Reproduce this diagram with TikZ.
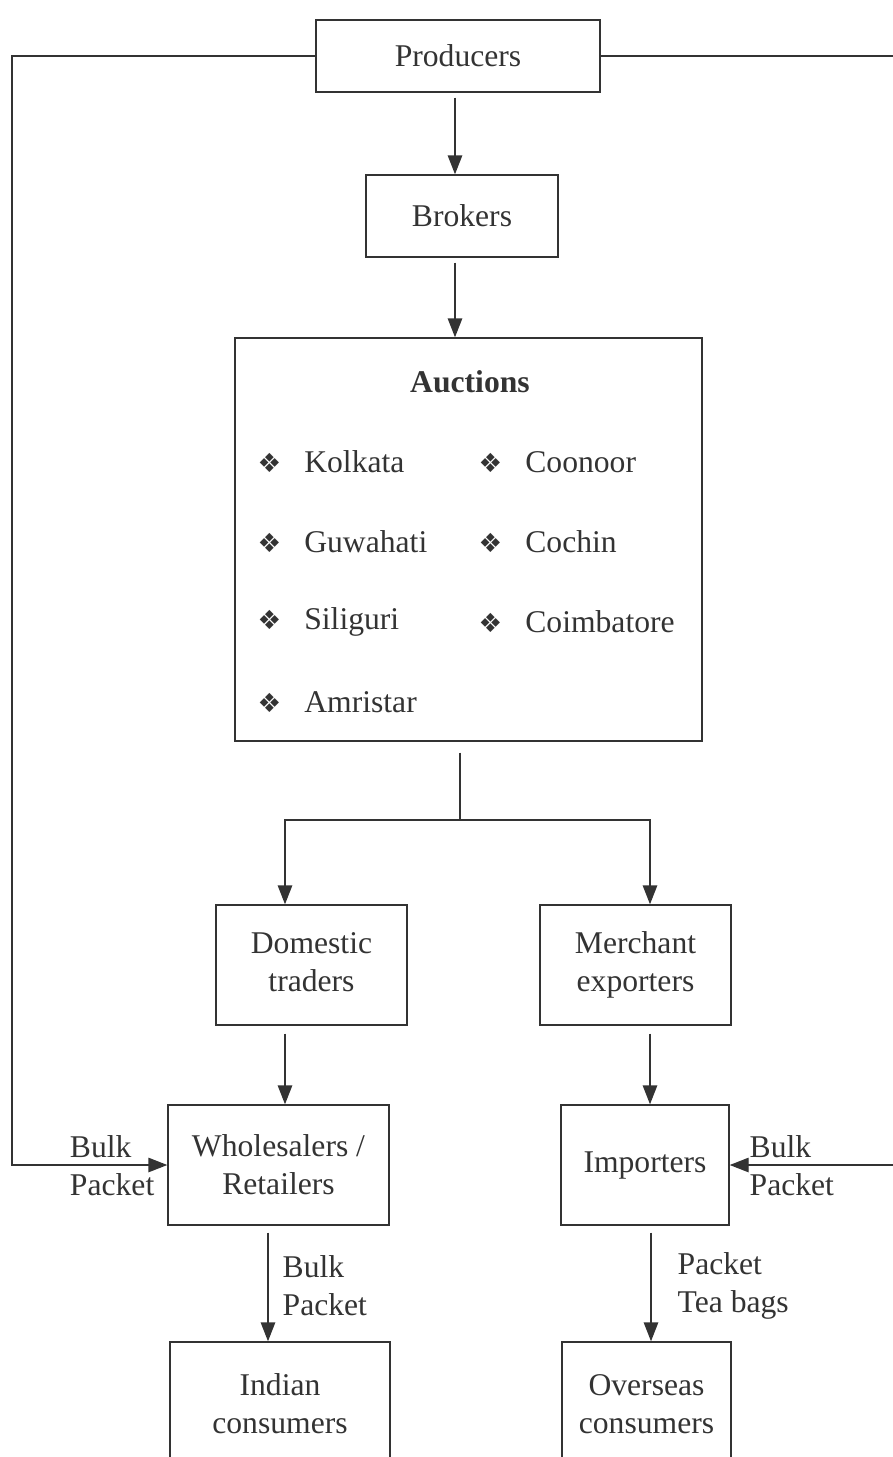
\documentclass[tikz,border=0pt]{standalone}
\usepackage{fontspec}
\setmainfont{Liberation Serif}
\newfontfamily\symfont{DejaVu Sans}
\usetikzlibrary{arrows.meta}
\definecolor{ink}{HTML}{333333}
\newcommand{\itm}[1]{{\symfont\fontsize{7.5pt}{8pt}\selectfont ❖}\hspace{2.3mm}#1}
\begin{document}
\begin{tikzpicture}[
    font=\fontsize{9pt}{10.8pt}\selectfont, text=ink,
    box/.style ={rectangle, draw=ink, line width=0.4pt, align=center, inner sep=0pt},
    arr/.style ={draw=ink, line width=0.4pt, -{Triangle[length=1.9mm,width=1.45mm]}},
    lbl/.style ={align=left, inner sep=0pt}]
   \useasboundingbox (0,0) rectangle (8.93,-14.57);
   \clip (0,0) rectangle (8.93,-14.57);
   \node[box, minimum width=2.84cm, minimum height=0.72cm] (prod) at (4.58,-0.56) {Producers};
   \node[box, minimum width=1.92cm, minimum height=0.82cm] (brok) at (4.62,-2.16) {Brokers};
   \node[box, minimum width=4.67cm, minimum height=4.03cm] (auc)  at (4.685,-5.395) {};
   \node[font=\fontsize{9pt}{10.8pt}\selectfont\bfseries] (auctit) at (4.70,-3.82) {Auctions};
   \node[anchor=west, inner sep=0pt] (kol) at (2.57,-4.62) {\itm{Kolkata}};
   \node[anchor=west, inner sep=0pt] (guw) at (2.57,-5.42) {\itm{Guwahati}};
   \node[anchor=west, inner sep=0pt] (sil) at (2.57,-6.22) {\itm{Siliguri}};
   \node[anchor=west, inner sep=0pt] (amr) at (2.57,-7.02) {\itm{Amristar}};
   \node[anchor=west, inner sep=0pt] (coo) at (4.78,-4.62) {\itm{Coonoor}};
   \node[anchor=west, inner sep=0pt] (coc) at (4.78,-5.42) {\itm{Cochin}};
   \node[anchor=west, inner sep=0pt] (coi) at (4.78,-6.22) {\itm{Coimbatore}};
   \node[box, minimum width=1.91cm, minimum height=1.20cm] (dom)   at (3.115,-9.65) {Domestic\\traders\vphantom{p}};
   \node[box, minimum width=1.91cm, minimum height=1.20cm] (mer)   at (6.355,-9.65) {Merchant\\exporters};
   \node[box, minimum width=2.21cm, minimum height=1.20cm] (whole) at (2.785,-11.65) {Wholesalers /\\Retailers};
   \node[box, minimum width=1.68cm, minimum height=1.20cm] (imp)   at (6.45,-11.65) {Importers};
   \node[box, minimum width=2.20cm, minimum height=1.50cm] (ind)   at (2.80,-14.17) {};
   \node[box, minimum width=1.69cm, minimum height=1.50cm] (ovs)   at (6.465,-14.17) {};
   \node[align=center] (indt) at (2.80,-14.04) {Indian\\consumers};
   \node[align=center] (ovst) at (6.465,-14.04) {Overseas\\consumers};
   \coordinate (lft) at (0.12,-6);
   \coordinate (rgt) at (9.05,-6);
   \coordinate (split) at (4.60,-8.20);
   \draw[arr, shorten <=0.5mm] ([xshift=-0.3mm]prod.south) -- ([xshift=-0.3mm]prod.south |- brok.north);
   \draw[arr, shorten <=0.5mm] ([xshift=-0.7mm]brok.south) -- ([xshift=-0.7mm]brok.south |- auc.north);
   \draw[draw=ink, line width=0.4pt] (auc.south -| split) ++(0,-0.11) -- (split);
   \draw[arr] (split) -| ([xshift=-2.65mm]dom.north);
   \draw[arr] (split) -| ([xshift=1.45mm]mer.north);
   \draw[arr, shorten <=0.8mm] ([xshift=-2.65mm]dom.south) -- ([xshift=-2.65mm]dom.south |- whole.north);
   \draw[arr, shorten <=0.8mm] ([xshift=1.45mm]mer.south) -- ([xshift=1.45mm]mer.south |- imp.north);
   \draw[arr, shorten <=0.7mm] ([xshift=-1.05mm]whole.south) -- ([xshift=-1.05mm]whole.south |- ind.north);
   \draw[arr, shorten <=0.7mm] ([xshift=0.6mm]imp.south) -- ([xshift=0.6mm]imp.south |- ovs.north);
   \draw[arr] (prod.west) -| (lft) |- (whole.west);
   \draw[arr] (prod.east) -| (rgt) |- (imp.east);
   \node[lbl, align=left, anchor=east] (lblL) at (1.55,-11.66) {\hfill Bulk\\Packet};
   \node[lbl, anchor=west] (lblR) at (7.49,-11.66) {Bulk\\Packet};
   \node[lbl, anchor=west] (lblI) at (2.82,-12.86) {Bulk\\Packet};
   \node[lbl, anchor=west] (lblO) at (6.77,-12.86) {Packet\\Tea bags};
 \end{tikzpicture}
\end{document}
